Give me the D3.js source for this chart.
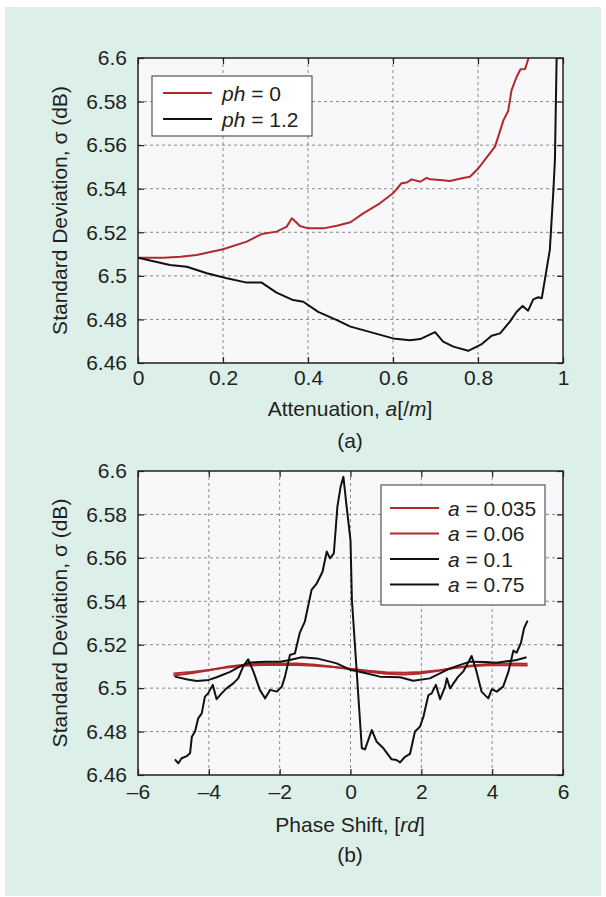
<!DOCTYPE html>
<html>
<head>
<meta charset="utf-8">
<script src="https://cdn.jsdelivr.net/npm/d3@7/dist/d3.min.js"></script>
<style>
  html, body { margin: 0; padding: 0; background: #ffffff; }
  svg { display: block; }
  text { font-family: "Liberation Sans", Arial, Helvetica, sans-serif; fill: #231f20; }
</style>
</head>
<body>
<svg id="fig" width="606" height="897"></svg>
<script>
// ---- Panel (a): standard deviation vs attenuation ----
const attenTicks = [0, 0.2, 0.4, 0.6, 0.8, 1];
const attenTickLabels = ["0", "0.2", "0.4", "0.6", "0.8", "1"];
const sigmaTicks = [6.46, 6.48, 6.5, 6.52, 6.54, 6.56, 6.58, 6.6];
const sigmaTickLabels = ["6.46", "6.48", "6.5", "6.52", "6.54", "6.56", "6.58", "6.6"];

// ph = 0
const atten_ph0 = [0, 0.06, 0.1, 0.138, 0.2, 0.256, 0.291, 0.326, 0.35, 0.362, 0.369, 0.381, 0.4, 0.436, 0.468, 0.5,
  0.53, 0.569, 0.6, 0.62, 0.632, 0.644, 0.664, 0.679, 0.687, 0.711, 0.734, 0.762, 0.781, 0.801, 0.816, 0.84,
  0.86, 0.871, 0.879, 0.891, 0.9, 0.911, 0.918, 0.925];
const sigma_ph0 = [6.5083, 6.5083, 6.5088, 6.5096, 6.5122, 6.5157, 6.5192, 6.5203, 6.5226, 6.5264, 6.5252, 6.5229,
  6.5218, 6.5218, 6.523, 6.5246, 6.5287, 6.5333, 6.5379, 6.5425, 6.5428, 6.5443, 6.5432, 6.545, 6.5443, 6.544,
  6.5435, 6.5448, 6.5455, 6.5494, 6.5532, 6.5593, 6.5715, 6.5757, 6.5853, 6.5914, 6.5948, 6.595, 6.5994, 6.604];

// ph = 1.2
const atten_ph12 = [0, 0.075, 0.115, 0.162, 0.209, 0.256, 0.291, 0.326, 0.365, 0.389, 0.424, 0.468, 0.5, 0.53,
  0.6, 0.64, 0.664, 0.699, 0.718, 0.742, 0.777, 0.809, 0.832, 0.852, 0.875, 0.891, 0.905, 0.918, 0.93, 0.942,
  0.95, 0.969, 0.977, 0.981, 0.985, 0.986];
const sigma_ph12 = [6.5083, 6.505, 6.5042, 6.5012, 6.4989, 6.4969, 6.4969, 6.4923, 6.4889, 6.4881, 6.4835, 6.4797,
  6.4767, 6.4751, 6.4713, 6.4704, 6.471, 6.4742, 6.4698, 6.4675, 6.4656, 6.4687, 6.4725, 6.4736, 6.479, 6.4835,
  6.4862, 6.484, 6.4892, 6.4902, 6.4897, 6.5119, 6.5379, 6.5532, 6.6, 6.605];

// ---- Panel (b): standard deviation vs phase shift ----
const phaseTicks = [-6, -4, -2, 0, 2, 4, 6];
const phaseTickLabels = ["\u20136", "\u20134", "\u20132", "0", "2", "4", "6"];

const phaseGrid = [-5, -4.5, -4, -3.5, -3, -2.5, -2, -1.5, -1, -0.5, 0, 0.5, 1, 1.5, 2, 2.5, 3, 3.5, 4, 4.5, 5];
const sigma_a035 = [6.5068, 6.5074, 6.5084, 6.5095, 6.5103, 6.5107, 6.5108, 6.5107, 6.5103, 6.5097, 6.5089,
  6.508, 6.5073, 6.5071, 6.5074, 6.5083, 6.5094, 6.5102, 6.5106, 6.5106, 6.5104];
const sigma_a06 = [6.5058, 6.5068, 6.5082, 6.5098, 6.5108, 6.5113, 6.5114, 6.5113, 6.5108, 6.5099, 6.5087,
  6.5075, 6.5066, 6.5063, 6.5068, 6.508, 6.5095, 6.5106, 6.5112, 6.5113, 6.5112];

const phase_a1 = [-4.96, -4.6, -4.34, -4.0, -3.78, -3.4, -3.12, -2.84, -2.4, -1.99, -1.71, -1.38, -0.95, -0.58,
  -0.39, 0, 0.13, 0.5, 0.83, 1.4, 1.77, 2.24, 2.81, 3.37, 3.8, 4.13, 4.69, 4.97];
const sigma_a1 = [6.5053, 6.504, 6.5033, 6.5038, 6.505, 6.5075, 6.51, 6.5118, 6.5121, 6.5122, 6.513, 6.5142, 6.5137,
  6.5122, 6.5114, 6.5084, 6.508, 6.5066, 6.5053, 6.505, 6.5034, 6.5045, 6.5091, 6.5122, 6.512, 6.5117, 6.513, 6.5142];

const phase_a75 = [-4.96, -4.86, -4.77, -4.62, -4.53, -4.48, -4.39, -4.3, -4.2, -4.11, -4.02, -3.89, -3.78, -3.64,
  -3.5, -3.31, -3.17, -3.03, -2.89, -2.74, -2.56, -2.41, -2.27, -2.08, -1.94, -1.85, -1.71, -1.57, -1.43, -1.29,
  -1.1, -0.95, -0.79, -0.67, -0.58, -0.47, -0.37, -0.28, -0.2, -0.11, 0, 0.04, 0.32, 0.41, 0.6, 0.74, 0.93, 1.16,
  1.3, 1.4, 1.54, 1.68, 1.82, 1.96, 2.06, 2.2, 2.29, 2.41, 2.53, 2.67, 2.72, 2.81, 3.04, 3.18, 3.32, 3.42, 3.56,
  3.7, 3.89, 3.99, 4.13, 4.31, 4.46, 4.6, 4.69, 4.81, 4.9, 5.0];
const sigma_a75 = [6.4672, 6.4654, 6.4677, 6.4687, 6.47, 6.4776, 6.48, 6.4861, 6.4884, 6.4961, 6.4976, 6.5015,
  6.4949, 6.4976, 6.4999, 6.5022, 6.5045, 6.51, 6.5133, 6.5076, 6.4992, 6.4953, 6.4992, 6.4984, 6.5007, 6.5053,
  6.5153, 6.516, 6.5256, 6.5306, 6.5452, 6.5483, 6.5536, 6.5629, 6.5598, 6.5621, 6.5836, 6.5927, 6.5973, 6.5836,
  6.5682, 6.5406, 6.4723, 6.4718, 6.4807, 6.4753, 6.4723, 6.4672, 6.4669, 6.4658, 6.4684, 6.4697, 6.48, 6.4822,
  6.4869, 6.4968, 6.4976, 6.5015, 6.4949, 6.5007, 6.5045, 6.4999, 6.5053, 6.5076, 6.5117, 6.5148, 6.5076, 6.4984,
  6.4953, 6.4995, 6.4984, 6.5007, 6.5076, 6.5173, 6.5163, 6.5207, 6.5276, 6.5311];

const RED = "#b0292d";
const BLACK = "#111111";
const FS = 21;

const svg = d3.select("#fig");

// Mint page panel
svg.append("rect").attr("x", 5).attr("y", 7).attr("width", 596).attr("height", 889).attr("fill", "#dcefe8");

const zip = (xs, ys) => xs.map((x, i) => [x, ys[i]]);

function drawPanel(cfg) {
  const { x, y, id } = cfg;
  const [x0, x1] = x.range();
  const [y1, y0] = y.range(); // y1 = bottom pixel, y0 = top pixel
  const g = svg.append("g");

  g.append("rect").attr("x", x0).attr("y", y0).attr("width", x1 - x0).attr("height", y1 - y0).attr("fill", "#f8f8fa");

  // dotted grid at interior ticks
  const grid = g.append("g").attr("stroke", "#8a8a8a").attr("stroke-width", 1).attr("stroke-dasharray", "3,3");
  cfg.xTicks.slice(1, -1).forEach(v => {
    grid.append("line").attr("x1", x(v)).attr("x2", x(v)).attr("y1", y0).attr("y2", y1);
  });
  cfg.yTicks.slice(1, -1).forEach(v => {
    grid.append("line").attr("x1", x0).attr("x2", x1).attr("y1", y(v)).attr("y2", y(v));
  });

  // data lines, clipped to the axes box
  svg.append("clipPath").attr("id", id).append("rect")
    .attr("x", x0).attr("y", y0).attr("width", x1 - x0).attr("height", y1 - y0);
  const line = d3.line().x(d => x(d[0])).y(d => y(d[1]));
  const lines = g.append("g").attr("clip-path", `url(#${id})`);
  cfg.series.forEach(s => {
    lines.append("path").attr("d", line(s.data)).attr("fill", "none")
      .attr("stroke", s.color).attr("stroke-width", s.width || 2).attr("stroke-linejoin", "round");
  });

  // axes with inward ticks on all four sides
  const fmt = labels => (d, i) => labels[i];
  const axB = g.append("g").attr("transform", `translate(0,${y1})`)
    .call(d3.axisBottom(x).tickValues(cfg.xTicks).tickFormat(fmt(cfg.xLabels)).tickSizeInner(-6).tickSizeOuter(0).tickPadding(cfg.xPad));
  const axT = g.append("g").attr("transform", `translate(0,${y0})`)
    .call(d3.axisTop(x).tickValues(cfg.xTicks).tickFormat("").tickSizeInner(-6).tickSizeOuter(0));
  const axL = g.append("g").attr("transform", `translate(${x0},0)`)
    .call(d3.axisLeft(y).tickValues(cfg.yTicks).tickFormat(fmt(cfg.yLabels)).tickSizeInner(-6).tickSizeOuter(0).tickPadding(11));
  const axR = g.append("g").attr("transform", `translate(${x1},0)`)
    .call(d3.axisRight(y).tickValues(cfg.yTicks).tickFormat("").tickSizeInner(-6).tickSizeOuter(0));
  [axB, axT, axL, axR].forEach(a => {
    a.select(".domain").remove();
    a.selectAll(".tick line").attr("stroke", "#222").attr("stroke-width", 1.2);
    a.selectAll("text").attr("font-size", FS).attr("fill", "#231f20")
      .style("font-family", "'Liberation Sans', Arial, sans-serif");
  });

  // box frame
  g.append("rect").attr("x", x0).attr("y", y0).attr("width", x1 - x0).attr("height", y1 - y0)
    .attr("fill", "none").attr("stroke", "#222").attr("stroke-width", 1.5);

  // y-axis title
  g.append("text").attr("transform", `translate(67,${(y0 + y1) / 2}) rotate(-90)`)
    .attr("text-anchor", "middle").attr("font-size", FS)
    .text("Standard Deviation, \u03c3 (dB)");

  return g;
}

function drawLegend(g, box, rows) {
  g.append("rect").attr("x", box.x).attr("y", box.y).attr("width", box.w).attr("height", box.h)
    .attr("fill", "#ffffff").attr("stroke", "#555").attr("stroke-width", 1.2);
  rows.forEach((r, i) => {
    const cy = box.firstRow + i * box.step;
    g.append("line").attr("x1", box.lx0).attr("x2", box.lx1).attr("y1", cy).attr("y2", cy)
      .attr("stroke", r.color).attr("stroke-width", 2);
    const t = g.append("text").attr("x", box.tx).attr("y", cy + 7.5).attr("font-size", box.fs);
    t.append("tspan").attr("font-style", "italic").text(r.sym);
    t.append("tspan").text(" = " + r.val);
  });
}

// Panel (a)
const xA = d3.scaleLinear().domain([0, 1]).range([138, 563]);
const yA = d3.scaleLinear().domain([6.46, 6.6]).range([363, 58]);
const gA = drawPanel({
  id: "clipA", x: xA, y: yA,
  xTicks: attenTicks, xLabels: attenTickLabels, yTicks: sigmaTicks, yLabels: sigmaTickLabels, xPad: 7,
  series: [
    { data: zip(atten_ph0, sigma_ph0), color: RED },
    { data: zip(atten_ph12, sigma_ph12), color: BLACK }
  ]
});
drawLegend(gA, { x: 152, y: 76, w: 160, h: 60, lx0: 163, lx1: 212, tx: 222, firstRow: 93, step: 26, fs: FS }, [
  { sym: "ph", val: "0", color: RED },
  { sym: "ph", val: "1.2", color: BLACK }
]);
const tA = gA.append("text").attr("x", 350).attr("y", 416).attr("text-anchor", "middle").attr("font-size", FS);
tA.append("tspan").text("Attenuation, ");
tA.append("tspan").attr("font-style", "italic").text("a");
tA.append("tspan").text("[/");
tA.append("tspan").attr("font-style", "italic").text("m");
tA.append("tspan").text("]");
gA.append("text").attr("x", 350).attr("y", 448).attr("text-anchor", "middle").attr("font-size", FS).text("(a)");

// Panel (b)
const xB = d3.scaleLinear().domain([-6, 6]).range([138, 563]);
const yB = d3.scaleLinear().domain([6.46, 6.6]).range([775, 471]);
const gB = drawPanel({
  id: "clipB", x: xB, y: yB,
  xTicks: phaseTicks, xLabels: phaseTickLabels, yTicks: sigmaTicks, yLabels: sigmaTickLabels, xPad: 9,
  series: [
    { data: zip(phaseGrid, sigma_a035), color: RED },
    { data: zip(phaseGrid, sigma_a06), color: RED },
    { data: zip(phase_a1, sigma_a1), color: BLACK },
    { data: zip(phase_a75, sigma_a75), color: BLACK }
  ]
});
drawLegend(gB, { x: 381, y: 485, w: 164, h: 120, lx0: 390, lx1: 439, tx: 448, firstRow: 508, step: 25.5, fs: FS }, [
  { sym: "a", val: "0.035", color: RED },
  { sym: "a", val: "0.06", color: RED },
  { sym: "a", val: "0.1", color: BLACK },
  { sym: "a", val: "0.75", color: BLACK }
]);
const tB = gB.append("text").attr("x", 350).attr("y", 832).attr("text-anchor", "middle").attr("font-size", FS);
tB.append("tspan").text("Phase Shift, [");
tB.append("tspan").attr("font-style", "italic").text("rd");
tB.append("tspan").text("]");
gB.append("text").attr("x", 350).attr("y", 862).attr("text-anchor", "middle").attr("font-size", FS).text("(b)");
</script>
</body>
</html>
